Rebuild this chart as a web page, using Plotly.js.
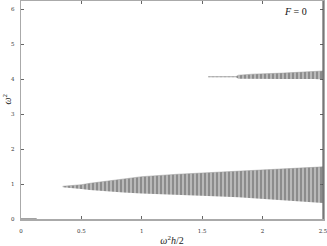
<!DOCTYPE html>
<html><head><meta charset="utf-8">
<script src="https://cdn.plot.ly/plotly-3.0.1.min.js"></script>
<style>html,body{margin:0;padding:0;background:#fff}#c{width:327px;height:246px}</style>
</head><body><div id="c"></div>
<script>
// Lower band envelope
const lowX   = [0.345, 0.40, 0.45, 0.50, 0.57, 0.70, 0.85, 1.00, 1.30, 1.60, 1.80, 2.10, 2.50];
const lowBot = [0.905, 0.895, 0.885, 0.86, 0.83, 0.79, 0.76, 0.73, 0.68, 0.65, 0.62, 0.56, 0.46];
const lowTop = [0.935, 0.945, 0.955, 0.98, 1.02, 1.08, 1.15, 1.21, 1.28, 1.33, 1.37, 1.42, 1.49];
// Upper band envelope
const upX    = [1.55, 1.78, 1.80, 1.92, 2.17, 2.43, 2.50];
const upBot  = [4.05, 4.05, 4.01, 4.00, 4.00, 4.00, 3.99];
const upTop  = [4.07, 4.07, 4.11, 4.14, 4.17, 4.21, 4.23];
// Zero-frequency segment
const zeroX = [0, 0.13];
const zeroY = [0, 0];

const xTicks = [0, 0.5, 1, 1.5, 2, 2.5];
const xTickText = ['0', '0.5', '1', '1.5', '2', '2.5'];
const yTicks = [0, 1, 2, 3, 4, 5, 6];
const yTickText = ['0', '1', '2', '3', '4', '5', '6'];

const pat = {shape: '|', bgcolor: '#8c8c8c', fgcolor: '#e6e6e6', size: 4, solidity: 0.25};
const traces = [
  {x: lowX, y: lowBot, mode: 'lines', line: {width: 0, color: '#8c8c8c'}, hoverinfo: 'skip'},
  {x: lowX, y: lowTop, mode: 'lines', line: {width: 0.5, color: '#999'}, fill: 'tonexty', fillcolor: '#8c8c8c', fillpattern: pat, hoverinfo: 'skip'},
  {x: upX, y: upBot, mode: 'lines', line: {width: 0, color: '#8c8c8c'}, hoverinfo: 'skip'},
  {x: upX, y: upTop, mode: 'lines', line: {width: 0.5, color: '#999'}, fill: 'tonexty', fillcolor: '#8c8c8c', fillpattern: pat, hoverinfo: 'skip'},
  {x: zeroX, y: zeroY, mode: 'lines', line: {width: 1, color: '#444'}, hoverinfo: 'skip'}
];
const tickFont = {family: 'DejaVu Serif, serif', size: 5.5, color: '#333'};
const layout = {
  width: 327, height: 246,
  margin: {l: 21, r: 4, t: 1, b: 27},
  paper_bgcolor: '#fff', plot_bgcolor: '#fff',
  showlegend: false,
  xaxis: {range: [0, 2.5], tickvals: xTicks, ticktext: xTickText, ticks: 'inside', ticklen: 3, tickcolor: '#666',
    showgrid: false, zeroline: false, showline: true, linecolor: '#aaa', linewidth: 1.5, mirror: 'ticks',
    tickfont: tickFont, ticklabelstandoff: 6, ticklabeloverflow: 'allow', automargin: false,
    title: {text: '<i>ω</i><sup>2</sup><i>h</i>/2', font: {family: 'Liberation Serif, serif', size: 10, color: '#222'}, standoff: 4}},
  yaxis: {range: [0, 6.23], tickvals: yTicks, ticktext: yTickText, ticks: 'inside', ticklen: 3, tickcolor: '#666',
    showgrid: false, zeroline: false, showline: true, linecolor: '#aaa', linewidth: 1.5, mirror: 'ticks',
    tickfont: tickFont, ticklabelstandoff: 4, ticklabeloverflow: 'allow', automargin: false},
  shapes: [{type: 'line', xref: 'paper', yref: 'paper', x0: 1, x1: 1, y0: 0, y1: 1, line: {color: '#444', width: 1}}],
  annotations: [
    {xref: 'paper', yref: 'paper', x: 0.955, y: 0.985, xanchor: 'right', yanchor: 'top', showarrow: false,
     text: '<i>F</i> = 0', font: {family: 'Liberation Serif, serif', size: 10, color: '#111'}},
    {xref: 'paper', yref: 'paper', x: -0.045, y: 0.55, xanchor: 'center', yanchor: 'middle', showarrow: false, textangle: -90,
     text: '<i>ω</i><sup>2</sup>', font: {family: 'Liberation Serif, serif', size: 10, color: '#222'}}
  ]
};
Plotly.newPlot('c', traces, layout, {displayModeBar: false, staticPlot: true});
</script></body></html>
